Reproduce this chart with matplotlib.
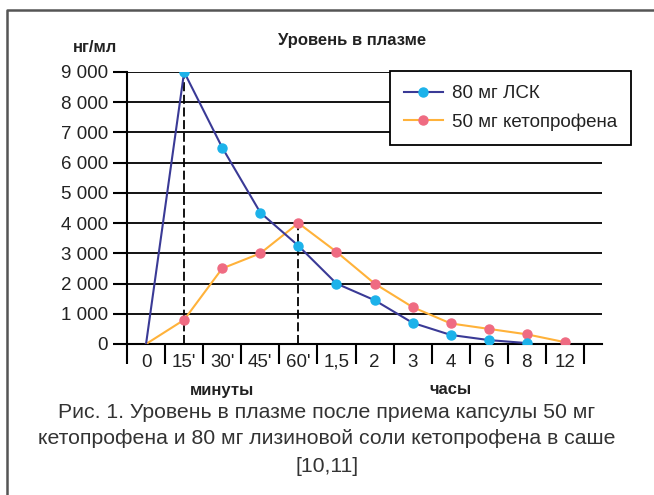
import numpy as np
import matplotlib.pyplot as plt
from matplotlib.lines import Line2D
import matplotlib.transforms as mtransforms

plt.rcParams['font.family'] = ['Liberation Sans', 'DejaVu Sans']

# categories on the time axis
time_labels = ['0', "15'", "30'", "45'", "60'", '1,5', '2', '3', '4', '6', '8', '12']
# plasma levels, ng/ml
lsk_80 = [0, 9000, 6500, 4350, 3250, 2000, 1450, 700, 300, 130, 30]
keto_50 = [0, 800, 2500, 3000, 4000, 3050, 2000, 1220, 680, 500, 320, 60]
yticks = [0, 1000, 2000, 3000, 4000, 5000, 6000, 7000, 8000, 9000]
ytick_labels = ['0', '1 000', '2 000', '3 000', '4 000', '5 000', '6 000', '7 000', '8 000', '9 000']

W, H = 654, 495
fig = plt.figure(figsize=(W / 100, H / 100), dpi=100)
fig.patch.set_facecolor('white')

# axes placed by pixel coords of the reference
x0, x1, y_top, y_bot = 127, 602, 72, 344
ax = fig.add_axes([x0 / W, 1 - y_bot / H, (x1 - x0) / W, (y_bot - y_top) / H])

xs = np.arange(len(time_labels))
n_int = len(time_labels)
step = (584 - 127) / n_int
ax.set_xlim(-0.5, -0.5 + (x1 - x0) / step)
ax.set_ylim(0, 9000)

# horizontal grid lines
for v in yticks[1:]:
    ax.axhline(v, color='black', lw=1.3, zorder=1)

# dashed markers of peaks
ax.vlines([1], 0, lsk_80[1], colors='black', lw=1.3, linestyles=(0, (5, 2)), zorder=2)
ax.vlines([4], 0, keto_50[4], colors='black', lw=1.3, linestyles=(0, (5, 2)), zorder=2)

ax.plot(xs[:len(lsk_80)], lsk_80, color='#3a3a96', lw=1.5, marker='o', ms=6.5,
        mfc='#1cb2ea', mec='#1cb2ea', markevery=list(range(1, len(lsk_80))),
        label='80 мг ЛСК', zorder=4)
ax.plot(xs, keto_50, color='#ffb23a', lw=1.5, marker='o', ms=6.5,
        mfc='#ef6b82', mec='#ef6b82', markevery=list(range(1, len(keto_50))),
        label='50 мг кетопрофена', zorder=3)

for s in ['top', 'right']:
    ax.spines[s].set_visible(False)
for s in ['left', 'bottom']:
    ax.spines[s].set_linewidth(1.5)

ax.set_yticks(yticks)
ax.set_yticklabels(ytick_labels, fontsize=13.5, color='#222222')
ax.tick_params(axis='y', direction='out', length=10, width=1.5, pad=3.5)

ax.set_xticks(xs)
ax.set_xticklabels(time_labels, fontsize=13.5, color='#222222')
ax.tick_params(axis='x', which='major', length=0, pad=7)
ax.set_xticks(np.arange(-0.5, n_int + 0.5, 1), minor=True)
ax.tick_params(axis='x', which='minor', direction='out', length=14.5, width=1.5)

leg = ax.legend(loc='upper left', bbox_to_anchor=(0.553, 1.004), fontsize=13.5,
                frameon=True, fancybox=False, framealpha=1, handlelength=2.1,
                borderpad=0.75, labelspacing=0.6, handletextpad=0.45, borderaxespad=0)
leg.get_frame().set_edgecolor('black')
leg.get_frame().set_linewidth(1.3)
for t in leg.get_texts():
    t.set_color('#222222')
leg.set_zorder(10)

trans = mtransforms.blended_transform_factory(ax.transData, fig.transFigure)
ax.text(2, 1 - 390 / H, 'минуты', transform=trans, ha='center', va='center',
        fontsize=12, fontweight='bold', color='#222222')
ax.text(8, 1 - 390 / H, 'часы', transform=trans, ha='center', va='center',
        fontsize=12, fontweight='bold', color='#222222')

fig.text(352 / W, 1 - 40 / H, 'Уровень в плазме', ha='center', va='center',
         fontsize=12, fontweight='bold', color='#222222')
fig.text(95 / W, 1 - 48 / H, 'нг/мл', ha='center', va='center',
         fontsize=12, fontweight='bold', color='#222222')

caption = ['Рис. 1. Уровень в плазме после приема капсулы 50 мг',
           'кетопрофена и 80 мг лизиновой соли кетопрофена в саше',
           '[10,11]']
for i, line in enumerate(caption):
    fig.text(0.5, 1 - (412 + 27 * i) / H, line, ha='center', va='center',
             fontsize=15.3, color='#333333')

# outer frame (left and top only)
fig.add_artist(Line2D([7 / W, 7 / W, 1], [0, 1 - 10 / H, 1 - 10 / H],
                      transform=fig.transFigure, color='#555555', lw=1.8))

fig.savefig('out.png', dpi=100)
